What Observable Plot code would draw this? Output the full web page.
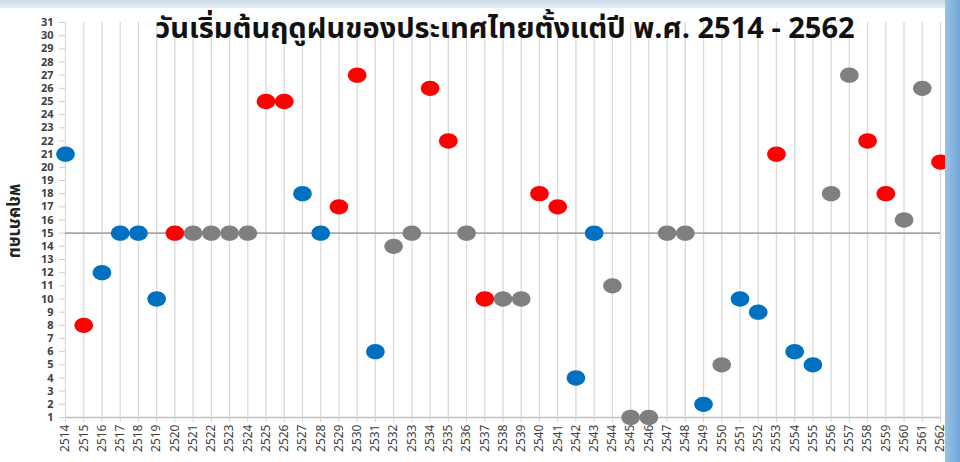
<!DOCTYPE html>
<html>
<head>
<meta charset="utf-8">
<script src="https://cdn.jsdelivr.net/npm/d3@7"></script>
<script src="https://cdn.jsdelivr.net/npm/@observablehq/plot@0.6"></script>
<style>
  html, body { margin: 0; padding: 0; background: #ffffff; }
  #wrap { position: relative; width: 960px; height: 462px; overflow: hidden; background: #ffffff; font-family: "Noto Sans Thai", "Tahoma", "Noto Sans", "DejaVu Sans", sans-serif; }
  #topband { position: absolute; left: 0; top: 0; width: 960px; height: 8px; background: linear-gradient(to bottom, #c9d9e6, #e6eef4); }
  #rightband { position: absolute; right: 0; top: 0; width: 15px; height: 462px; background: linear-gradient(to right, #9cc2e4, #6fa5d8); }
  #title { position: absolute; left: 65px; width: 880px; top: 9px; text-align: center; font-size: 29px; font-weight: bold; color: #111; white-space: nowrap; letter-spacing: 0px; line-height: 40px; }
  #ylabel { position: absolute; left: 15px; top: 221px; transform: translate(-50%, -50%) rotate(90deg); font-size: 17px; font-weight: bold; color: #222; white-space: nowrap; }
  #chart { position: absolute; left: 0; top: 0; }
</style>
</head>
<body>
<div id="wrap">
  <div id="chart"></div>
  <div id="topband"></div>
  <div id="rightband"></div>
  <div id="title">วันเริ่มต้นฤดูฝนของประเทศไทยตั้งแต่ปี พ.ศ. 2514 - 2562</div>
  <div id="ylabel">พฤษภาคม</div>
</div>
<script>
const years = [2514,2515,2516,2517,2518,2519,2520,2521,2522,2523,2524,2525,2526,2527,2528,2529,2530,2531,2532,2533,2534,2535,2536,2537,2538,2539,2540,2541,2542,2543,2544,2545,2546,2547,2548,2549,2550,2551,2552,2553,2554,2555,2556,2557,2558,2559,2560,2561,2562];
const onsetDay = [21,8,12,15,15,10,15,15,15,15,15,25,25,18,15,17,27,6,14,15,26,22,15,10,10,10,18,17,4,15,11,1,1,15,15,2,5,10,9,21,6,5,18,27,22,18,16,26,20.4];
const group = ["b","r","b","b","b","b","r","g","g","g","g","r","r","b","b","r","r","b","g","g","r","r","g","r","g","g","r","r","b","b","g","g","g","g","g","b","g","b","b","r","b","b","g","g","r","r","g","g","r"];
const groupColors = {b: "#0070C0", r: "#FF0000", g: "#7F7F7F"};
const yTicks = d3.range(1, 32);
const normalDay = [15];

const data = years.map((y, i) => ({year: String(y), day: onsetDay[i], g: group[i]}));

const ellipse = {
  draw(context, size) {
    const r = Math.sqrt(size / Math.PI);
    const rx = r * 1.12, ry = r * 0.92, k = 0.5523;
    context.moveTo(rx, 0);
    context.bezierCurveTo(rx, ry * k, rx * k, ry, 0, ry);
    context.bezierCurveTo(-rx * k, ry, -rx, ry * k, -rx, 0);
    context.bezierCurveTo(-rx, -ry * k, -rx * k, -ry, 0, -ry);
    context.bezierCurveTo(rx * k, -ry, rx, -ry * k, rx, 0);
    context.closePath();
  }
};

const chart = Plot.plot({
  width: 960,
  height: 462,
  marginLeft: 65,
  marginRight: 20,
  marginTop: 22,
  marginBottom: 45,
  style: {fontFamily: "'Noto Sans', 'DejaVu Sans', sans-serif", background: "transparent"},
  x: {type: "point", domain: years.map(String), padding: 0, round: false},
  y: {domain: [1, 31]},
  marks: [
    Plot.gridX(years.map(String), {stroke: "#d9d9d9", strokeOpacity: 1, strokeWidth: 1.3}),
    Plot.ruleY([1], {stroke: "#bfbfbf", strokeWidth: 1.3}),
    Plot.ruleY(normalDay, {stroke: "#a6a6a6", strokeWidth: 1.6}),
    Plot.axisY(yTicks, {tickSize: 6, stroke: "#d0d0d0", tickPadding: 6, fontSize: 11, fontWeight: "bold", fill: "#404040", label: null, tickFormat: d => String(d)}),
    Plot.axisX(years.map(String), {tickRotate: -90, tickSize: 5, stroke: "#d0d0d0", tickPadding: 2, fontSize: 12, fill: "#404040", label: null}),
    Plot.dot(data, {x: "year", y: "day", fill: d => groupColors[d.g], r: 8.3, symbol: ellipse, stroke: "none"})
  ]
});
document.getElementById("chart").appendChild(chart);
</script>
</body>
</html>
